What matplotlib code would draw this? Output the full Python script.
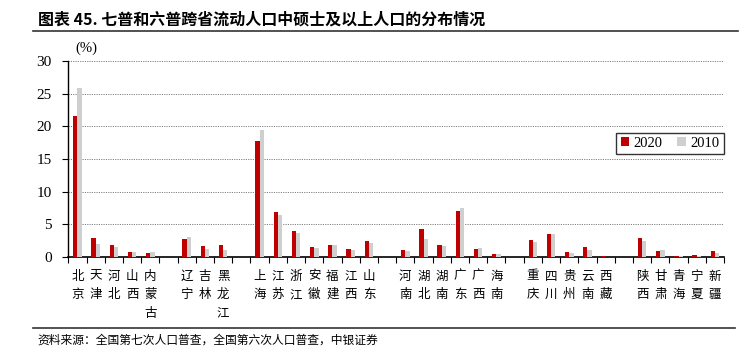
import numpy as np
import matplotlib
matplotlib.use("Agg")
import matplotlib.pyplot as plt

plt.rcParams['font.family'] = ['Liberation Serif', 'Noto Sans CJK SC', 'DejaVu Sans']

# provinces, None marks an empty slot between regions
provinces = ['北京', '天津', '河北', '山西', '内蒙古', None,
             '辽宁', '吉林', '黑龙江', None,
             '上海', '江苏', '浙江', '安徽', '福建', '江西', '山东', None,
             '河南', '湖北', '湖南', '广东', '广西', '海南', None,
             '重庆', '四川', '贵州', '云南', '西藏', None,
             '陕西', '甘肃', '青海', '宁夏', '新疆']

v2020 = [21.6, 2.9, 1.8, 0.8, 0.65, None,
         2.8, 1.7, 1.8, None,
         17.8, 6.9, 4.0, 1.6, 1.85, 1.2, 2.4, None,
         1.07, 4.3, 1.85, 7.05, 1.2, 0.5, None,
         2.6, 3.5, 0.77, 1.5, 0.15, None,
         2.9, 0.87, 0.15, 0.25, 0.87]

v2010 = [25.8, 2.0, 1.5, 0.75, 0.8, None,
         3.1, 1.3, 1.0, None,
         19.4, 6.5, 3.7, 1.4, 1.85, 1.1, 2.15, None,
         0.92, 2.75, 1.63, 7.5, 1.33, 0.5, None,
         2.24, 3.5, 0.66, 1.07, 0.0, None,
         2.45, 1.07, 0.15, 0.15, 0.6]

red = '#C00000'
grey = '#CFCFCF'

fig = plt.figure(figsize=(7.46, 3.55), dpi=100)
ax = fig.add_axes([0.0916, 0.276, 0.879, 0.552])

idx = [i for i, p in enumerate(provinces) if p is not None]
x = np.array(idx, dtype=float)
y20 = [v2020[i] for i in idx]
y10 = [v2010[i] for i in idx]

w = 0.235
ax.bar(x - w / 2, y20, width=w, color=red, label='2020', zorder=3)
ax.bar(x + w / 2, y10, width=w, color=grey, label='2010', zorder=3)

n = len(provinces)
ax.set_xlim(-0.5, n - 0.5)
ax.set_ylim(0, 30)
ax.set_yticks(np.arange(0, 31, 5))
ax.tick_params(axis='y', labelsize=11, length=4, direction='out', width=0.8, pad=8)
for lab in ax.get_yticklabels():
    lab.set_family('Liberation Serif')

labels = ['' if p is None else '\n'.join(p) for p in provinces]
ax.set_xticks(np.arange(n))
ax.set_xticklabels(labels, fontsize=9, family=['Noto Sans CJK SC'],
                   linespacing=1.55, va='top')
ax.tick_params(axis='x', which='major', length=0, pad=9)
ax.set_xticks(np.arange(n + 1) - 0.5, minor=True)
ax.tick_params(axis='x', which='minor', length=4, width=0.8, direction='out')

ax.yaxis.grid(True, linestyle=(0, (1.2, 1.2)), color='#808080', linewidth=0.7)
ax.set_axisbelow(True)
for s in ['top', 'right']:
    ax.spines[s].set_visible(False)
ax.spines['left'].set_linewidth(1.0)
ax.spines['bottom'].set_linewidth(1.2)

ax.text(-0.1, 30.9, '(%)', fontsize=10.5, family='Liberation Serif',
        ha='left', va='bottom')

leg = ax.legend(loc='upper right', bbox_to_anchor=(1.0, 0.635), ncol=2,
                fontsize=10.5, frameon=True, fancybox=False, edgecolor='black',
                handlelength=0.6, handleheight=0.6, handletextpad=0.3,
                columnspacing=1.0, borderpad=0.3, borderaxespad=0.0)
leg.get_frame().set_linewidth(1.0)

# title and source
fig.text(38 / 746, 1 - 20 / 355, '图表 45. 七普和六普跨省流动人口中硕士及以上人口的分布情况',
         fontsize=11.5, fontweight='bold', family=['Noto Sans CJK SC'],
         ha='left', va='center')
fig.add_artist(plt.Line2D([33 / 746, 738 / 746], [1 - 31 / 355, 1 - 31 / 355],
                          color='#333333', linewidth=1.2))
fig.add_artist(plt.Line2D([33 / 746, 735 / 746], [1 - 328 / 355, 1 - 328 / 355],
                          color='#333333', linewidth=1.2))
fig.text(37 / 746, 1 - 340 / 355, '资料来源：全国第七次人口普查，全国第六次人口普查，中银证券',
         fontsize=8.5, style='italic', family=['Noto Sans CJK SC'],
         ha='left', va='center')

fig.savefig('out.png', dpi=100)
